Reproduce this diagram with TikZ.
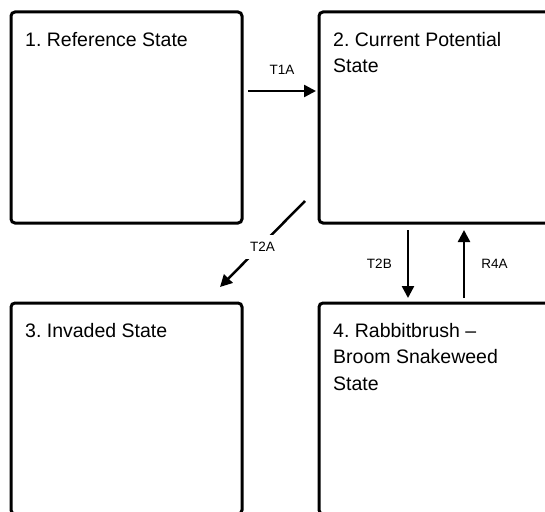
\documentclass[tikz,border=0pt]{standalone}
\usepackage{fontspec}
\setmainfont{Liberation Sans}
\usetikzlibrary{calc,arrows.meta}
\frenchspacing

\begin{document}
\begin{tikzpicture}[x=1pt,y=-1pt,
    statebox/.style={draw, line width=3pt, rounded corners=4pt, outer sep=0pt,
        minimum width=231pt, minimum height=211pt, anchor=north west},
    statetext/.style={anchor=north west, align=left, inner sep=0pt,
        font=\fontsize{19.5}{26.5}\selectfont, xshift=14pt, yshift=-20pt},
    trans/.style={line width=2.5pt, -{Triangle[length=12pt,width=12pt]}},
    translabel/.style={inner sep=0pt, font=\fontsize{13.5}{16}\selectfont}]
\useasboundingbox (0,0) rectangle (545,511);
\clip (0,0) rectangle (545,511);
\node[statebox, label={[statetext]north west:1. Reference State}] (ref) at (11,12) {};
\node[statebox, label={[statetext]north west:2. Current Potential\\State}] (cur) at (319,12) {};
\node[statebox, label={[statetext]north west:3. Invaded State}] (inv) at (11,303) {};
\node[statebox, label={[statetext]north west:4. Rabbitbrush --\\Broom Snakeweed\\State}] (rab) at (319,303) {};
\draw[trans] ($(ref.north east)+(6,79)$) -- ($(cur.north west)+(-3,79)$)
    node[translabel, midway, above=15pt] {T1A};
\draw[trans] ($(cur.south west)+(-14,-22)$) -- ($(inv.north east)+(-22,-16)$)
    node[translabel, midway, fill=white, inner sep=7pt, yshift=-3pt] {T2A};
\draw[trans] ($(cur.south west)+(89,7)$) -- ($(rab.north west)+(89,-5)$)
    node[translabel, midway, left=15pt] {T2B};
\draw[trans] ($(rab.north west)+(145,-5)$) -- ($(cur.south west)+(145,7)$)
    node[translabel, midway, right=16pt] {R4A};
\end{tikzpicture}
\end{document}
